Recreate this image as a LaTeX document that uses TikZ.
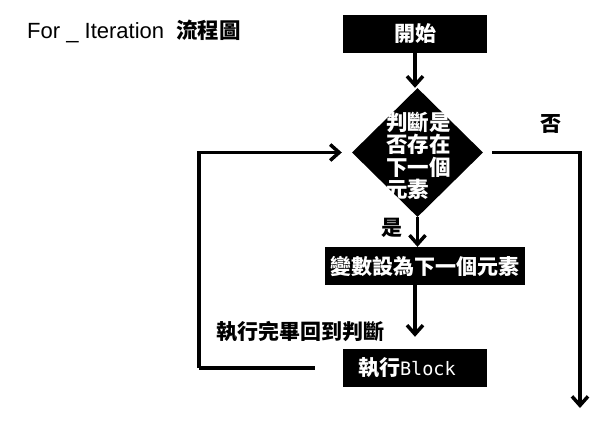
\documentclass[tikz,border=0pt]{standalone}
\usepackage{fontspec}
\setmainfont{Liberation Sans}
\newfontfamily\cjk{Noto Sans CJK TC}
\newfontfamily\blockmono{DejaVu Sans Mono}
\usetikzlibrary{shapes.geometric,arrows.meta}
\tikzset{
  box/.style={fill=black,text=white,minimum height=38pt,inner sep=0pt,
    font=\cjk\bfseries\fontsize{21}{22}\selectfont},
  cond/.style={diamond,fill=black,minimum width=131pt,minimum height=129pt,inner sep=0pt},
  lbl/.style={inner sep=0pt,font=\cjk\bfseries\fontsize{21}{22}\selectfont},
  flow/.style={line width=3.5pt,-{Straight Barb[length=9pt,width=16pt]}},
  back/.style={line width=3.5pt}
}
\begin{document}
\begin{tikzpicture}[x=1pt,y=-1pt]
      \useasboundingbox (0,0) rectangle (600,440);
      % title
      \node[anchor=base west,inner sep=0pt,font=\fontsize{22}{24}\selectfont] (title) at (27,38)
        {For \_ Iteration\hspace{12pt}{\cjk\bfseries\fontsize{21.5}{22}\selectfont 流程圖}};
      % boxes
      \node[box,minimum width=144pt] (start) at (415,33.5) {開始};
      \node[cond] (check) at (417.5,152.5) {};
      \node[lbl,text=white,anchor=west,align=left,font=\cjk\bfseries\fontsize{21.5}{22.5}\selectfont]
        (checktxt) at (386,156) {判斷是\\否存在\\下一個\\元素};
      \node[box,minimum width=200pt] (next) at (425,266) {變數設為下一個元素};
      \node[box,minimum width=144pt,text width=114pt,inner xsep=15pt,align=left] (block) at (415,368)
        {執行{\mdseries\blockmono\fontsize{18.5}{22}\selectfont Block}};
      % labels
      \node[lbl] (yes) at (392,228) {是};
      \node[lbl] (no) at (551,124) {否};
      \node[lbl] (backtxt) at (300,332) {執行完畢回到判斷};
      \coordinate (stop) at (580,408);
      % connectors
      \draw[flow] (start) -- (check.north -| start);
      \draw[flow] (check.south) -- (check.south |- next.north);
      \draw[flow,shorten >=12pt] (block.north |- next.south) -- (block.north);
      \draw[flow,shorten <=9pt] (check.east) -| (stop);
      \draw[back,shorten <=28pt] (block.west) -- ++(-144,0) coordinate (corner);
      \draw[flow,shorten >=10pt] (corner) |- (check.west);
    \end{tikzpicture}
\end{document}
